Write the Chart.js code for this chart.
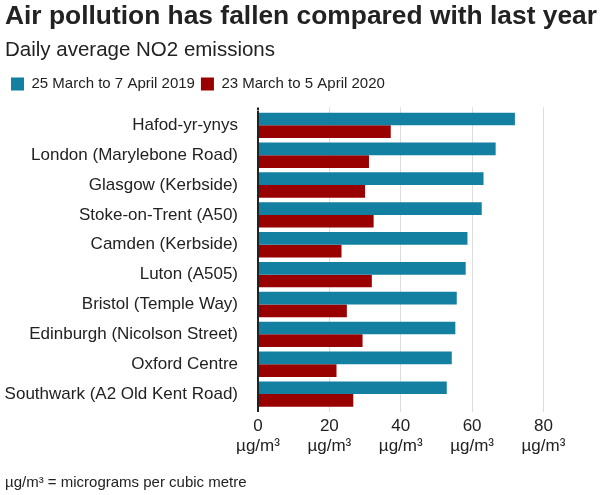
<!DOCTYPE html>
<html>
<head>
<meta charset="utf-8">
<script src="https://cdn.jsdelivr.net/npm/chart.js@4"></script>
<style>
    body { margin: 0; background: #fff; font-family: "Liberation Sans", Arial, sans-serif; }
    #wrap { position: relative; width: 600px; height: 495px; }
    #foot { position: absolute; left: 5px; top: 473px; font-size: 15px; color: #222; }
</style>
</head>
<body>
<div id="wrap">
    <canvas id="chart" width="600" height="495"></canvas>
    <div id="foot">µg/m³ = micrograms per cubic metre</div>
</div>
<script>
// sites, top to bottom
const sites = [
    'Hafod-yr-ynys',
    'London (Marylebone Road)',
    'Glasgow (Kerbside)',
    'Stoke-on-Trent (A50)',
    'Camden (Kerbside)',
    'Luton (A505)',
    'Bristol (Temple Way)',
    'Edinburgh (Nicolson Street)',
    'Oxford Centre',
    'Southwark (A2 Old Kent Road)'
];
const values2019 = [72.0, 66.6, 63.2, 62.7, 58.7, 58.2, 55.7, 55.3, 54.3, 52.9];
const values2020 = [37.2, 31.1, 30.0, 32.4, 23.4, 31.9, 24.9, 29.3, 22.0, 26.7];
const xTicks = [0, 20, 40, 60, 80];
const unit = 'µg/m³';

const ctx = document.getElementById('chart').getContext('2d');
Chart.defaults.font.family = '"Liberation Sans", Arial, sans-serif';
Chart.defaults.color = '#222222';

const zeroColor = c => c.tick && c.tick.value === 0 ? '#222222' : '#dddddd';
const zeroWidth = c => c.tick && c.tick.value === 0 ? 2 : 1;
const fixedTicks = scale => { scale.ticks = xTicks.map(v => ({ value: v })); };

new Chart(ctx, {
    type: 'bar',
    data: {
        labels: sites,
        datasets: [
            {
                label: '25 March to 7 April 2019',
                data: values2019,
                backgroundColor: '#1380A1',
                barPercentage: 1,
                categoryPercentage: 0.85
            },
            {
                label: '23 March to 5 April 2020',
                data: values2020,
                backgroundColor: '#990000',
                barPercentage: 1,
                categoryPercentage: 0.85
            }
        ]
    },
    options: {
        indexAxis: 'y',
        responsive: false,
        animation: false,
        layout: {
            padding: { left: 5, right: 3, bottom: 0 }
        },
        scales: {
            x: {
                min: 0,
                max: 95,
                afterBuildTicks: fixedTicks,
                afterFit: function (scale) {
                    scale.height = 86;
                },
                grid: {
                    // zero line doubles as the axis line
                    color: zeroColor,
                    lineWidth: zeroWidth,
                    tickLength: 3
                },
                border: { display: false },
                ticks: {
                    padding: 4,
                    font: { size: 17, lineHeight: 1.2 },
                    color: '#222222',
                    callback: function (value) {
                        return [String(value), unit];
                    }
                }
            },
            // spacer between legend and plot, lets the grid poke out a little on top
            gap: {
                type: 'linear',
                axis: 'x',
                position: 'top',
                min: 0,
                max: 95,
                afterBuildTicks: fixedTicks,
                ticks: { display: false },
                grid: {
                    drawOnChartArea: false,
                    color: zeroColor,
                    lineWidth: zeroWidth,
                    tickLength: 3
                },
                border: { display: false },
                afterFit: function (scale) {
                    scale.height = 9;
                }
            },
            y: {
                afterFit: function (scale) {
                    scale.width = 253;
                },
                grid: { display: false, drawTicks: false },
                border: { display: false },
                ticks: {
                    padding: 20,
                    font: { size: 17 },
                    color: '#222222'
                }
            }
        },
        plugins: {
            title: {
                display: true,
                text: 'Air pollution has fallen compared with last year',
                align: 'start',
                font: { size: 26.5, weight: 'bold' },
                padding: { top: 1, bottom: 0 }
            },
            subtitle: {
                display: true,
                text: 'Daily average NO2 emissions',
                align: 'start',
                font: { size: 20.5 },
                padding: { top: 5, bottom: 8 }
            },
            legend: {
                position: 'top',
                align: 'start',
                labels: {
                    boxWidth: 13,
                    boxHeight: 13,
                    font: { size: 15 },
                    padding: 6
                }
            },
            tooltip: { enabled: false }
        }
    }
});
</script>
</body>
</html>
